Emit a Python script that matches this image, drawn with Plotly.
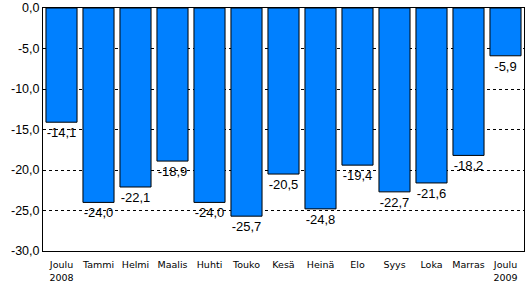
import plotly.graph_objects as go

months = ["Joulu<br>2008", "Tammi", "Helmi", "Maalis", "Huhti", "Touko", "Kesä",
          "Heinä", "Elo", "Syys", "Loka", "Marras", "Joulu<br>2009"]
values = [-14.1, -24.0, -22.1, -18.9, -24.0, -25.7, -20.5, -24.8, -19.4, -22.7, -21.6, -18.2, -5.9]
labels = [f"{v:.1f}".replace(".", ",") for v in values]
yticks = [0, -5, -10, -15, -20, -25, -30]
yticktext = [f"{v:.1f}".replace(".", ",") for v in yticks]

fig = go.Figure()
fig.add_trace(go.Bar(
    x=months, y=values, text=labels, textposition="outside",
    textfont=dict(family="Liberation Sans, Arial", size=13, color="black"),
    marker=dict(color="#0080FF", line=dict(color="black", width=1)),
    cliponaxis=False,
))
fig.update_layout(
    width=525, height=283,
    margin=dict(l=43, r=1, t=8, b=32),
    paper_bgcolor="white", plot_bgcolor="white",
    bargap=0.16, showlegend=False,
    font=dict(family="Liberation Sans, Arial", color="black"),
)
fig.update_xaxes(
    showline=True, linecolor="black", linewidth=1, mirror=True,
    tickfont=dict(family="DejaVu Sans", size=9.5), ticks="", showgrid=False,
    ticklabelstandoff=5, automargin=False,
)
fig.update_yaxes(
    range=[-30, 0], tickvals=yticks, ticktext=yticktext,
    showline=True, linecolor="black", linewidth=1, mirror=True,
    showgrid=True, gridcolor="black", griddash="3px,3px", gridwidth=1,
    zeroline=False, tickfont=dict(size=12.5), ticks="", automargin=False,
)
fig.write_html("out.html")
